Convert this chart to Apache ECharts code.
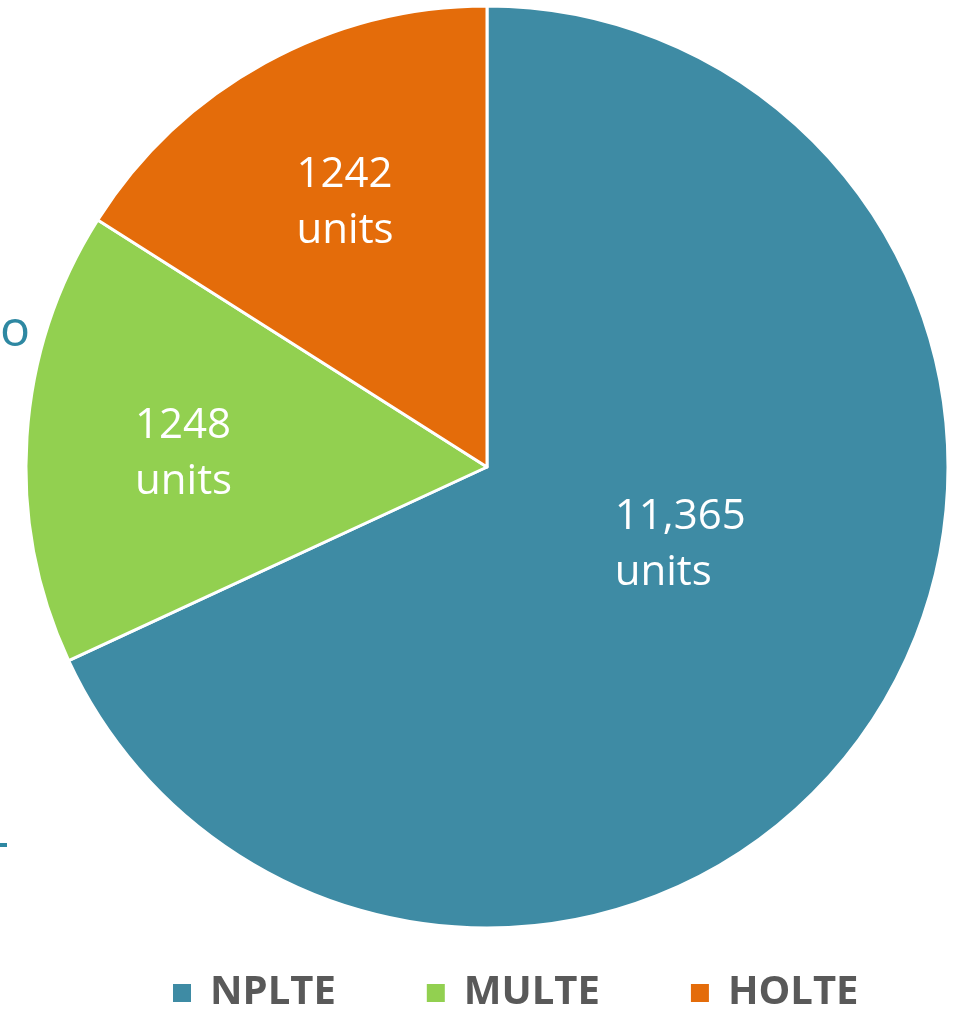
<!DOCTYPE html>
<html>
<head>
<meta charset="utf-8">
<script src="https://cdn.jsdelivr.net/npm/echarts@6/dist/echarts.min.js"></script>
<style>
  html, body { margin: 0; padding: 0; background: #fff; }
  #chart { width: 954px; height: 1009px; }
</style>
</head>
<body>
<div id="chart"></div>
<script>
// slice names, their drawn shares and the printed labels
var names = ['NPLTE', 'MULTE', 'HOLTE'];
var shares = [68.1, 15.9, 16.0];
var labelValues = ['11,365', '1248', '1242'];
var colors = ['#3E8BA4', '#92D050', '#E46C0A'];

// label nudges, Excel-like placement
var labelShift = [
  { dx: -69, dy: -48 },
  { dx: -119, dy: 2 },
  { dx: -78, dy: -59 }
];

var chart = echarts.init(document.getElementById('chart'));

var data = names.map(function (n, i) {
  return { name: n, value: shares[i] };
});

var option = {
  animation: false,
  color: colors,
  legend: {
    left: 168,
    top: 968,
    icon: 'rect',
    itemWidth: 18,
    itemHeight: 18,
    itemGap: 91,
    data: names,
    itemStyle: { borderWidth: 0 },
    textStyle: {
      fontFamily: 'Open Sans',
      fontWeight: 'bold',
      fontSize: 40,
      color: '#595959',
      padding: [0, 0, 0, 14]
    }
  },
  graphic: [
    {
      type: 'text',
      left: 0,
      top: 307,
      style: { text: 'o', fontFamily: 'Open Sans', fontSize: 50, fill: '#2E88A2' }
    },
    {
      type: 'rect',
      shape: { x: 0, y: 843, width: 7, height: 4 },
      style: { fill: '#2E88A2' }
    }
  ],
  series: [
    {
      type: 'pie',
      center: [487, 467],
      radius: 461,
      startAngle: 90,
      clockwise: true,
      avoidLabelOverlap: false,
      data: data,
      itemStyle: {
        borderColor: '#ffffff',
        borderWidth: 3
      },
      label: {
        show: true,
        position: 'inside',
        color: '#ffffff',
        fontFamily: 'Open Sans',
        fontSize: 42,
        lineHeight: 56,
        align: 'left',
        formatter: function (p) {
          return labelValues[p.dataIndex] + '\nunits';
        }
      },
      labelLine: { show: false },
      labelLayout: function (p) {
        var s = labelShift[p.dataIndex];
        return { dx: s.dx, dy: s.dy, align: 'left' };
      },
      emphasis: { disabled: true }
    }
  ]
};

chart.setOption(option);
</script>
</body>
</html>
